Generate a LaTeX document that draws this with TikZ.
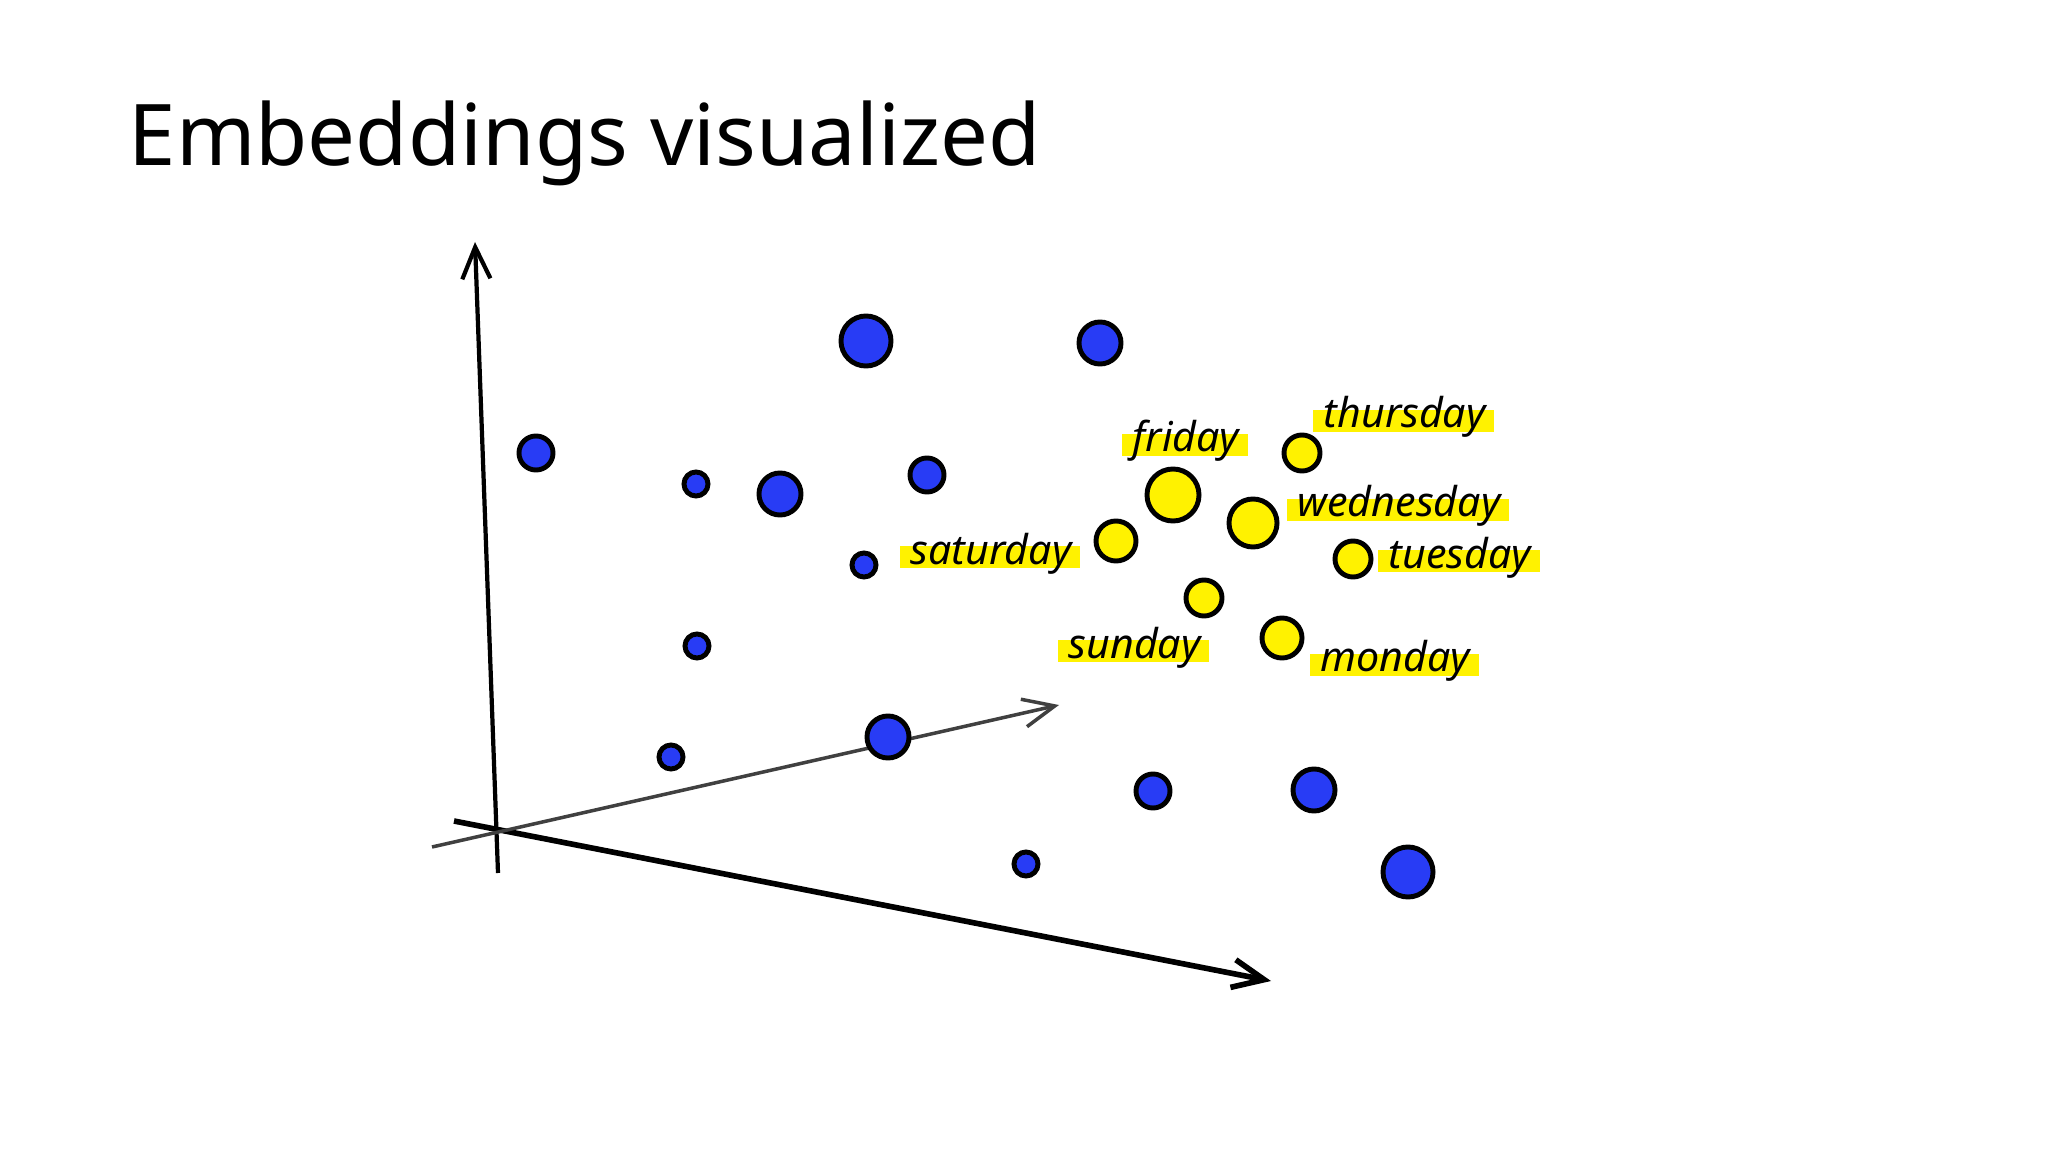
\documentclass[tikz,border=0pt]{standalone}
\usepackage{fontspec}
\setmainfont{Noto Sans}
\usetikzlibrary{arrows.meta,backgrounds}

\definecolor{dotblue}{RGB}{40,60,245}
\definecolor{dotyellow}{RGB}{255,242,0}

\begin{document}
\begin{tikzpicture}[x=0.01cm,y=-0.01cm,
  blue dot/.style={circle,draw=black,line width=1.4pt,fill=dotblue,inner sep=0pt},
  yellow dot/.style={circle,draw=black,line width=1.4pt,fill=dotyellow,inner sep=0pt},
  day/.style={anchor=base west,inner sep=0pt,font=\fontsize{11.7}{13}\selectfont\itshape},
  hl/.style={fill=dotyellow},
  axis/.style={line width=1.2pt,-{Straight Barb[length=9pt,width=8pt]}}]

\useasboundingbox (0,0) rectangle (2048,1152);

\node [anchor=base west,inner sep=0pt,font=\fontsize{24.2}{28}\selectfont] (title) at (128,166) {Embeddings visualized};

% axes
\coordinate (o) at (497,830);
\coordinate (ybot) at (498,873);
\coordinate (ytop) at (475,242);
\coordinate (xbot) at (454,821);
\coordinate (xtop) at (1271,981);
\coordinate (zbot) at (432,847);
\coordinate (ztop) at (1059,705);

\draw [axis] (ybot) -- (ytop);
\draw [axis,line width=1.6pt] (xbot) -- (xtop);
\draw [axis,line width=1pt,black!75] (zbot) -- (ztop);

% other words
\node [blue dot,minimum size=0.5cm] (b1) at (866,341) {};
\node [blue dot,minimum size=0.42cm] (b2) at (1100,343) {};
\node [blue dot,minimum size=0.34cm] (b3) at (536,453) {};
\node [blue dot,minimum size=0.24cm] (b4) at (696,484) {};
\node [blue dot,minimum size=0.42cm] (b5) at (780,494) {};
\node [blue dot,minimum size=0.34cm] (b6) at (927,475) {};
\node [blue dot,minimum size=0.24cm] (b7) at (864,565) {};
\node [blue dot,minimum size=0.24cm] (b8) at (697,646) {};
\node [blue dot,minimum size=0.24cm] (b9) at (671,757) {};
\node [blue dot,minimum size=0.42cm] (b10) at (888,737) {};
\node [blue dot,minimum size=0.34cm] (b11) at (1153,791) {};
\node [blue dot,minimum size=0.42cm] (b12) at (1314,790) {};
\node [blue dot,minimum size=0.24cm] (b13) at (1026,864) {};
\node [blue dot,minimum size=0.5cm] (b14) at (1408,872) {};

% days of the week
\node [yellow dot,minimum size=0.52cm] (fri dot) at (1173,495) {};
\node [yellow dot,minimum size=0.4cm] (sat dot) at (1116,541) {};
\node [yellow dot,minimum size=0.48cm] (wed dot) at (1253,523) {};
\node [yellow dot,minimum size=0.36cm] (thu dot) at (1302,453) {};
\node [yellow dot,minimum size=0.36cm] (tue dot) at (1353,559) {};
\node [yellow dot,minimum size=0.36cm] (sun dot) at (1204,598) {};
\node [yellow dot,minimum size=0.4cm] (mon dot) at (1282,638) {};

\node [day] (fri) at (1132,452) {friday};
\node [day] (thu) at (1323,428) {thursday};
\node [day] (wed) at (1297,517) {wednesday};
\node [day] (tue) at (1388,568) {tuesday};
\node [day] (sat) at (910,564) {saturday};
\node [day] (sun) at (1068,658) {sunday};
\node [day] (mon) at (1320,672) {monday};

\begin{scope}[on background layer]
\foreach \d in {fri,thu,wed,tue,sat,sun,mon}
  \fill [hl] ([shift={(-10,4)}]\d.base west) rectangle ([shift={(8,-18)}]\d.base east);
\end{scope}

\end{tikzpicture}
\end{document}
